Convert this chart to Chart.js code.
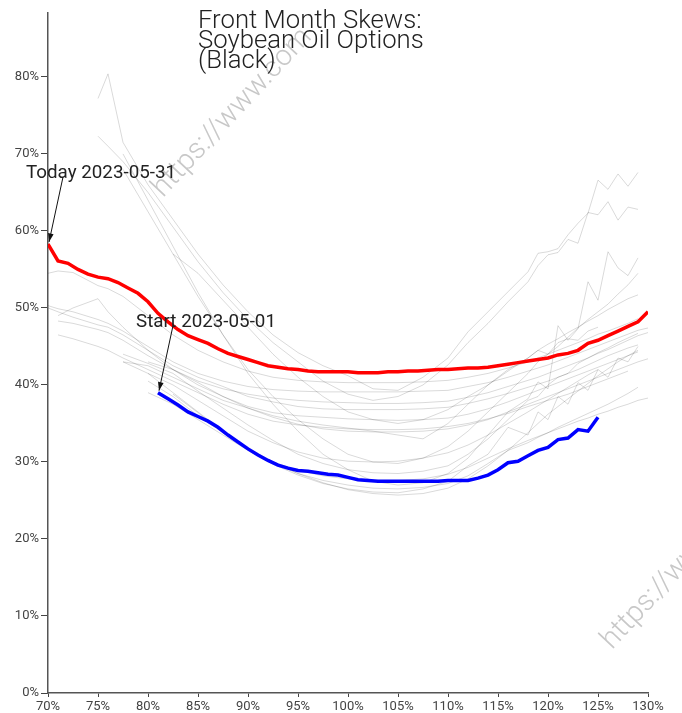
<!DOCTYPE html>
<html>
<head>
<meta charset="utf-8">
<script src="https://cdn.jsdelivr.net/npm/chart.js@4.4.0/dist/chart.umd.min.js"></script>
<style>
  html, body { margin: 0; padding: 0; background: #fff; }
</style>
</head>
<body>
<canvas id="skewChart" width="682" height="713"></canvas>
<script>
/***************** DATA *****************/
const _ = null;

// strikes (% of ATM) for the two highlighted curves
const strikes = [70, 71, 72, 73, 74, 75, 76, 77, 78, 79,
                 80, 81, 82, 83, 84, 85, 86, 87, 88, 89,
                 90, 91, 92, 93, 94, 95, 96, 97, 98, 99,
                 100, 101, 102, 103, 104, 105, 106, 107, 108, 109,
                 110, 111, 112, 113, 114, 115, 116, 117, 118, 119,
                 120, 121, 122, 123, 124, 125, 126, 127, 128, 129, 130];

// Today 2023-05-31 (red)
const todayVols = [58.3, 56.1, 55.8, 55.0, 54.4, 54.0, 53.8, 53.3, 52.6, 51.9,
                   50.8, 49.3, 48.2, 47.2, 46.4, 45.9, 45.4, 44.7, 44.1, 43.7,
                   43.3, 42.9, 42.5, 42.3, 42.1, 42.0, 41.8, 41.7, 41.7, 41.7,
                   41.7, 41.6, 41.6, 41.6, 41.7, 41.7, 41.8, 41.8, 41.9, 42.0,
                   42.0, 42.1, 42.2, 42.2, 42.3, 42.5, 42.7, 42.9, 43.1, 43.3,
                   43.5, 43.9, 44.1, 44.5, 45.4, 45.8, 46.4, 47.0, 47.6, 48.2, 49.5];

// Start 2023-05-01 (blue)
const startVols = [_, _, _, _, _, _, _, _, _, _,
                   _, 39.0, 38.2, 37.4, 36.5, 35.9, 35.3, 34.5, 33.5, 32.6,
                   31.7, 30.9, 30.2, 29.6, 29.2, 28.9, 28.8, 28.6, 28.4, 28.3,
                   28.0, 27.7, 27.6, 27.5, 27.5, 27.5, 27.5, 27.5, 27.5, 27.5,
                   27.6, 27.6, 27.6, 27.9, 28.3, 29.0, 29.9, 30.1, 30.8, 31.5,
                   31.9, 32.9, 33.1, 34.2, 34.0, 35.8, _, _, _, _, _];

// strikes for the grey curves of the days in between
const greyStrikes = [70, 71, 72.5, 75, 76, 77.5,
                     80, 82.5, 85, 87.5, 90, 92.5, 95, 97.5,
                     100, 102.5, 105, 107.5, 110,
                     112, 114, 116, 118,
                     119, 120, 121, 122, 123, 124, 125, 126, 127, 128, 129, 130];

const greyVols = [
  [_, _, _, 77.2, 80.4, 71.5, 66, 61.5, 57, 53, 49.5, 46.5, 44.2, 42.5, 41.2, 39.5, 39.3, 41.0, 43.5, 46.9, 49.5, 52.1, 54.7, 57.1, 57.3, 57.7, 59.5, 61.0, 62.3, 66.6, 65.4, 67.4, 65.8, 67.6, _],
  [_, _, _, 72.3, 71, 69, 65, 60.5, 56, 52, 48.5, 45.5, 43, 40.5, 38.8, 38.0, 38.5, 40.0, 42.6, 45.5, 48.0, 50.8, 53.4, 55.5, 56.9, 57.2, 58.9, 58.4, 62.4, 62.1, 63.8, 61.4, 63.1, 62.8, _],
  [_, _, _, _, _, 70, 64, 58, 52, 46.5, 41.5, 37.5, 34, 31, 29, 27.5, 27, 27.3, 28.5, 30.5, 33.5, 36.5, 38.2, 40.4, 39.5, 47.7, 45.8, 47.3, 53.4, 51.0, 57.3, 55.2, 54.2, 56.5, _],
  [_, _, _, _, _, 68, 62.5, 57, 51.5, 46.5, 42, 38.5, 35.5, 33, 31, 30, 29.8, 30.5, 32.0, 34, 36.5, 39, 41.5, 43, 44, 45, 46.2, 47.4, 48.5, 49.5, 50.5, 51.8, 53, 54.5, _],
  [_, _, _, _, _, _, _, 57, 54.5, 51, 47.5, 44, 41, 38.5, 36.5, 35.5, 35, 35.5, 36.8, 38.5, 40, 41.8, 43.5, 44.5, 45.3, 46.0, 46.8, 47.5, 48.3, 49.0, 49.8, 50.5, 51.2, 51.7, _],
  [54.5, 54.8, 54.6, 52.9, 52.5, 51.5, 49, 46.5, 44.5, 43, 41.8, 41, 40.6, 40.4, 40.3, 40.3, 40.3, 40.4, 40.6, 41, 41.5, 42.2, 43, 43.5, 44, 44.5, 45, 45.5, 46, 46.6, 47, 47.5, 48, 48.6, _],
  [50.3, 49.9, 49.5, 48.5, 48, 47, 45, 43, 41.5, 40.5, 39.8, 39.4, 39.2, 39.1, 39.1, 39.1, 39.1, 39.2, 39.3, 39.8, 40.3, 41, 41.8, 42.2, 42.6, 43.1, 43.6, 44.1, 44.6, 45.1, 45.6, 46.1, 46.6, 47.1, 47.4],
  [_, 48.3, 48.0, 47.2, 46.8, 45.8, 43.8, 42, 40.5, 39.5, 38.8, 38.3, 38.0, 37.8, 37.7, 37.6, 37.6, 37.7, 37.9, 38.4, 39, 39.8, 40.6, 41, 41.5, 42, 42.5, 43, 43.5, 44.1, 44.6, 45.2, 45.8, 46.4, 46.8],
  [50.0, 49.5, 48.8, 47.8, 47.5, 46.5, 44.5, 42.5, 41, 39.8, 38.5, 37.8, 37.2, 36.9, 36.8, 36.8, 36.8, 36.9, 37.1, 37.6, 38.2, 38.9, 39.7, 40.1, 40.5, 41, 41.5, 42, 42.6, 43.2, 43.8, 44.3, 44.8, 45.2, _],
  [_, 49.0, 50.0, 51.2, 49.5, 47.5, 44.5, 42, 40, 38.5, 37.2, 36.4, 36.0, 35.8, 35.6, 35.5, 35.4, 35.5, 35.7, 36.2, 36.9, 37.8, 38.8, 39.3, 39.8, 40.3, 40.8, 41.3, 41.8, 42.3, 42.8, 43.3, 43.8, 44.3, _],
  [_, 46.5, 46.0, 45.0, 44.5, 43.5, 42, 40.5, 39, 37.5, 36.2, 35.3, 34.8, 34.5, 34.3, 34.2, 34.2, 34.3, 34.6, 35, 35.6, 36.3, 37.2, 37.6, 38, 38.4, 38.8, 39.3, 39.8, 40.3, 40.8, 41.3, 41.8, _, _],
  [_, _, _, _, _, 43.0, 42.5, 41, 39.5, 38, 37, 36, 35.3, 34.8, 34.4, 34, 33.5, 33.0, 35, 37.5, 40, 42, 43.5, 44.5, 44.0, 45.5, 46, 45.8, 47, 47.5, _, _, _, _, _],
  [_, _, _, _, _, _, 39.0, 37.5, 35.5, 33.5, 31.5, 29.8, 28.5, 27.6, 27.0, 26.6, 26.5, 26.7, 27.2, 28.2, 29.8, 31.5, 32.5, 33.2, 33.8, 34.5, 35.1, 35.7, 36.3, 36.9, 37.5, 38.2, 38.9, 39.7, _],
  [_, _, _, _, _, 43, 41.5, 39, 36.5, 34, 31.8, 30, 28.5, 27.3, 26.4, 25.9, 25.7, 25.9, 26.6, 27.8, 29.5, 31.5, 33.8, 35, 36.2, 37.2, 38.2, 39.2, 40.2, 41.2, 42.1, 43, 43.8, 44.5, _],
  [_, _, _, _, _, _, 40.5, 38.5, 36, 33.8, 31.5, 29.7, 28.3, 27.2, 26.5, 26.1, 26.0, 26.5, 27.5, 29.5, 31.0, 34.5, 33.5, 36.5, 35.5, 38.5, 37.5, 40.3, 39.3, 42, 41, 43.5, 43, 45, _],
  [_, _, _, _, _, _, _, 38.8, 36.4, 33.8, 31.6, 30, 28.9, 28.2, 27.8, 27.6, 27.6, 27.8, 28.4, 29.3, 30.5, 31.7, 32.8, 33.3, 33.8, 34.3, 34.8, 35.3, 35.7, 36.2, 36.6, 37.1, 37.5, 38, 38.3],
  [_, _, _, _, _, 44.0, 42.8, 41.5, 39.2, 37, 34.8, 32.8, 31, 29.8, 29, 28.6, 28.5, 28.8, 29.5, 31, 33, 35.5, 38, 38.5, 40, 41, 41.5, 42.8, 43.5, 44.2, 44.8, 45.5, 46.1, 46.7, _],
  [_, _, _, _, _, _, 43, 42, 40.3, 38.5, 37, 35.8, 34.9, 34.3, 34, 33.9, 33.9, 34, 34.3, 34.8, 35.5, 36.5, 37.5, 38, 38.5, 39, 39.5, 40, 40.5, 41, 41.5, 42, 42.5, 43, 43.4],
  [_, _, _, _, _, _, 41.5, 40, 38, 36, 34, 32.5, 31.3, 30.5, 30.1, 30, 30.1, 30.5, 31.2, 32.2, 33.5, 35, 36.5, 37.3, 38.1, 38.9, 39.7, 40.5, 41.3, 42, _, _, _, _, _]
];

const titleLines = ['Front Month Skews:', 'Soybean Oil Options', '(Black)'];
const todayLabel = 'Today 2023-05-31';
const startLabel = 'Start 2023-05-01';
const watermark = 'https://www.com';

/***************** HELPERS *****************/
function toPoints(xs, ys) {
    return xs.map((x, i) => ({ x: x, y: ys[i] }));
}

function drawArrow(ctx, x1, y1, x2, y2) {
    const ang = Math.atan2(y2 - y1, x2 - x1);
    ctx.beginPath();
    ctx.moveTo(x1, y1);
    ctx.lineTo(x2, y2);
    ctx.stroke();
    ctx.beginPath();
    ctx.moveTo(x2, y2);
    ctx.lineTo(x2 - 9 * Math.cos(ang - 0.32), y2 - 9 * Math.sin(ang - 0.32));
    ctx.lineTo(x2 - 9 * Math.cos(ang + 0.32), y2 - 9 * Math.sin(ang + 0.32));
    ctx.closePath();
    ctx.fill();
}

/***************** PLUGINS *****************/
const watermarkPlugin = {
    id: 'watermark',
    beforeDraw(chart) {
        const ctx = chart.ctx;
        ctx.save();
        ctx.fillStyle = '#c8c8c8';
        ctx.font = '300 29px Roboto';
        ctx.textBaseline = 'alphabetic';
        [[163, 198], [612, 650]].forEach(p => {
            ctx.save();
            ctx.translate(p[0], p[1]);
            ctx.rotate(-47 * Math.PI / 180);
            ctx.fillText(watermark, 0, 0);
            ctx.restore();
        });
        ctx.restore();
    }
};

const titlePlugin = {
    id: 'skewTitle',
    afterDraw(chart) {
        const ctx = chart.ctx;
        ctx.save();
        ctx.fillStyle = '#222';
        ctx.font = '300 25.7px Roboto';
        ctx.textAlign = 'left';
        ctx.textBaseline = 'alphabetic';
        titleLines.forEach((line, i) => ctx.fillText(line, 198, 28 + i * 20));
        ctx.restore();
    }
};

const labelPlugin = {
    id: 'curveLabels',
    afterDatasetsDraw(chart) {
        const ctx = chart.ctx;
        const xs = chart.scales.x, ys = chart.scales.y;
        const marks = [
            { text: todayLabel, x: strikes[0], y: todayVols[0] },
            { text: startLabel, x: strikes[startVols.findIndex(v => v !== null)], y: startVols.find(v => v !== null) }
        ];
        ctx.save();
        ctx.strokeStyle = '#111';
        ctx.lineWidth = 1;
        ctx.font = '18.8px Roboto';
        ctx.textBaseline = 'alphabetic';
        marks.forEach(m => {
            const px = xs.getPixelForValue(m.x);
            const py = ys.getPixelForValue(m.y);
            ctx.fillStyle = '#222';
            ctx.fillText(m.text, px - 22, py - 66);
            ctx.fillStyle = '#111';
            drawArrow(ctx, px + 15, py - 67, px + 1, py - 2);
        });
        ctx.restore();
    }
};

/***************** CHART *****************/
const datasets = [
    {
        label: todayLabel,
        data: toPoints(strikes, todayVols),
        borderColor: '#ff0000',
        borderWidth: 3.5,
        order: 0
    },
    {
        label: startLabel,
        data: toPoints(strikes, startVols),
        borderColor: '#0000ff',
        borderWidth: 3.5,
        order: 0
    }
];
greyVols.forEach((vols, i) => {
    datasets.push({
        label: 'day ' + (i + 1),
        data: toPoints(greyStrikes, vols),
        borderColor: 'rgba(0, 0, 0, 0.15)',
        borderWidth: 1,
        order: 1
    });
});

const tickFont = { family: 'Roboto', size: 13 };

new Chart(document.getElementById('skewChart').getContext('2d'), {
    type: 'line',
    data: { datasets: datasets },
    options: {
        responsive: false,
        animation: false,
        spanGaps: true,
        elements: { point: { radius: 0 }, line: { tension: 0 } },
        layout: { padding: { top: 13, right: 34, left: 0, bottom: 0 } },
        plugins: {
            legend: { display: false },
            tooltip: { enabled: false },
            title: { display: false }
        },
        scales: {
            x: {
                type: 'linear',
                min: 70,
                max: 130,
                ticks: {
                    stepSize: 5,
                    maxRotation: 0,
                    padding: 2,
                    color: '#444',
                    font: tickFont,
                    callback: v => v + '%'
                },
                grid: { drawOnChartArea: false, tickLength: 4, color: '#444' },
                border: { color: '#555', width: 1.5 },
                afterFit: s => { s.height = 20; }
            },
            y: {
                min: 0,
                max: 88.3,
                ticks: {
                    stepSize: 10,
                    padding: 2,
                    color: '#444',
                    font: tickFont,
                    callback: v => v + '%'
                },
                afterBuildTicks: s => { s.ticks = s.ticks.filter(t => t.value % 10 === 0); },
                grid: { drawOnChartArea: false, tickLength: 7, color: '#444' },
                border: { color: '#555', width: 1.5 },
                afterFit: s => { s.width = 48; }
            }
        }
    },
    plugins: [watermarkPlugin, titlePlugin, labelPlugin]
});
</script>
</body>
</html>
